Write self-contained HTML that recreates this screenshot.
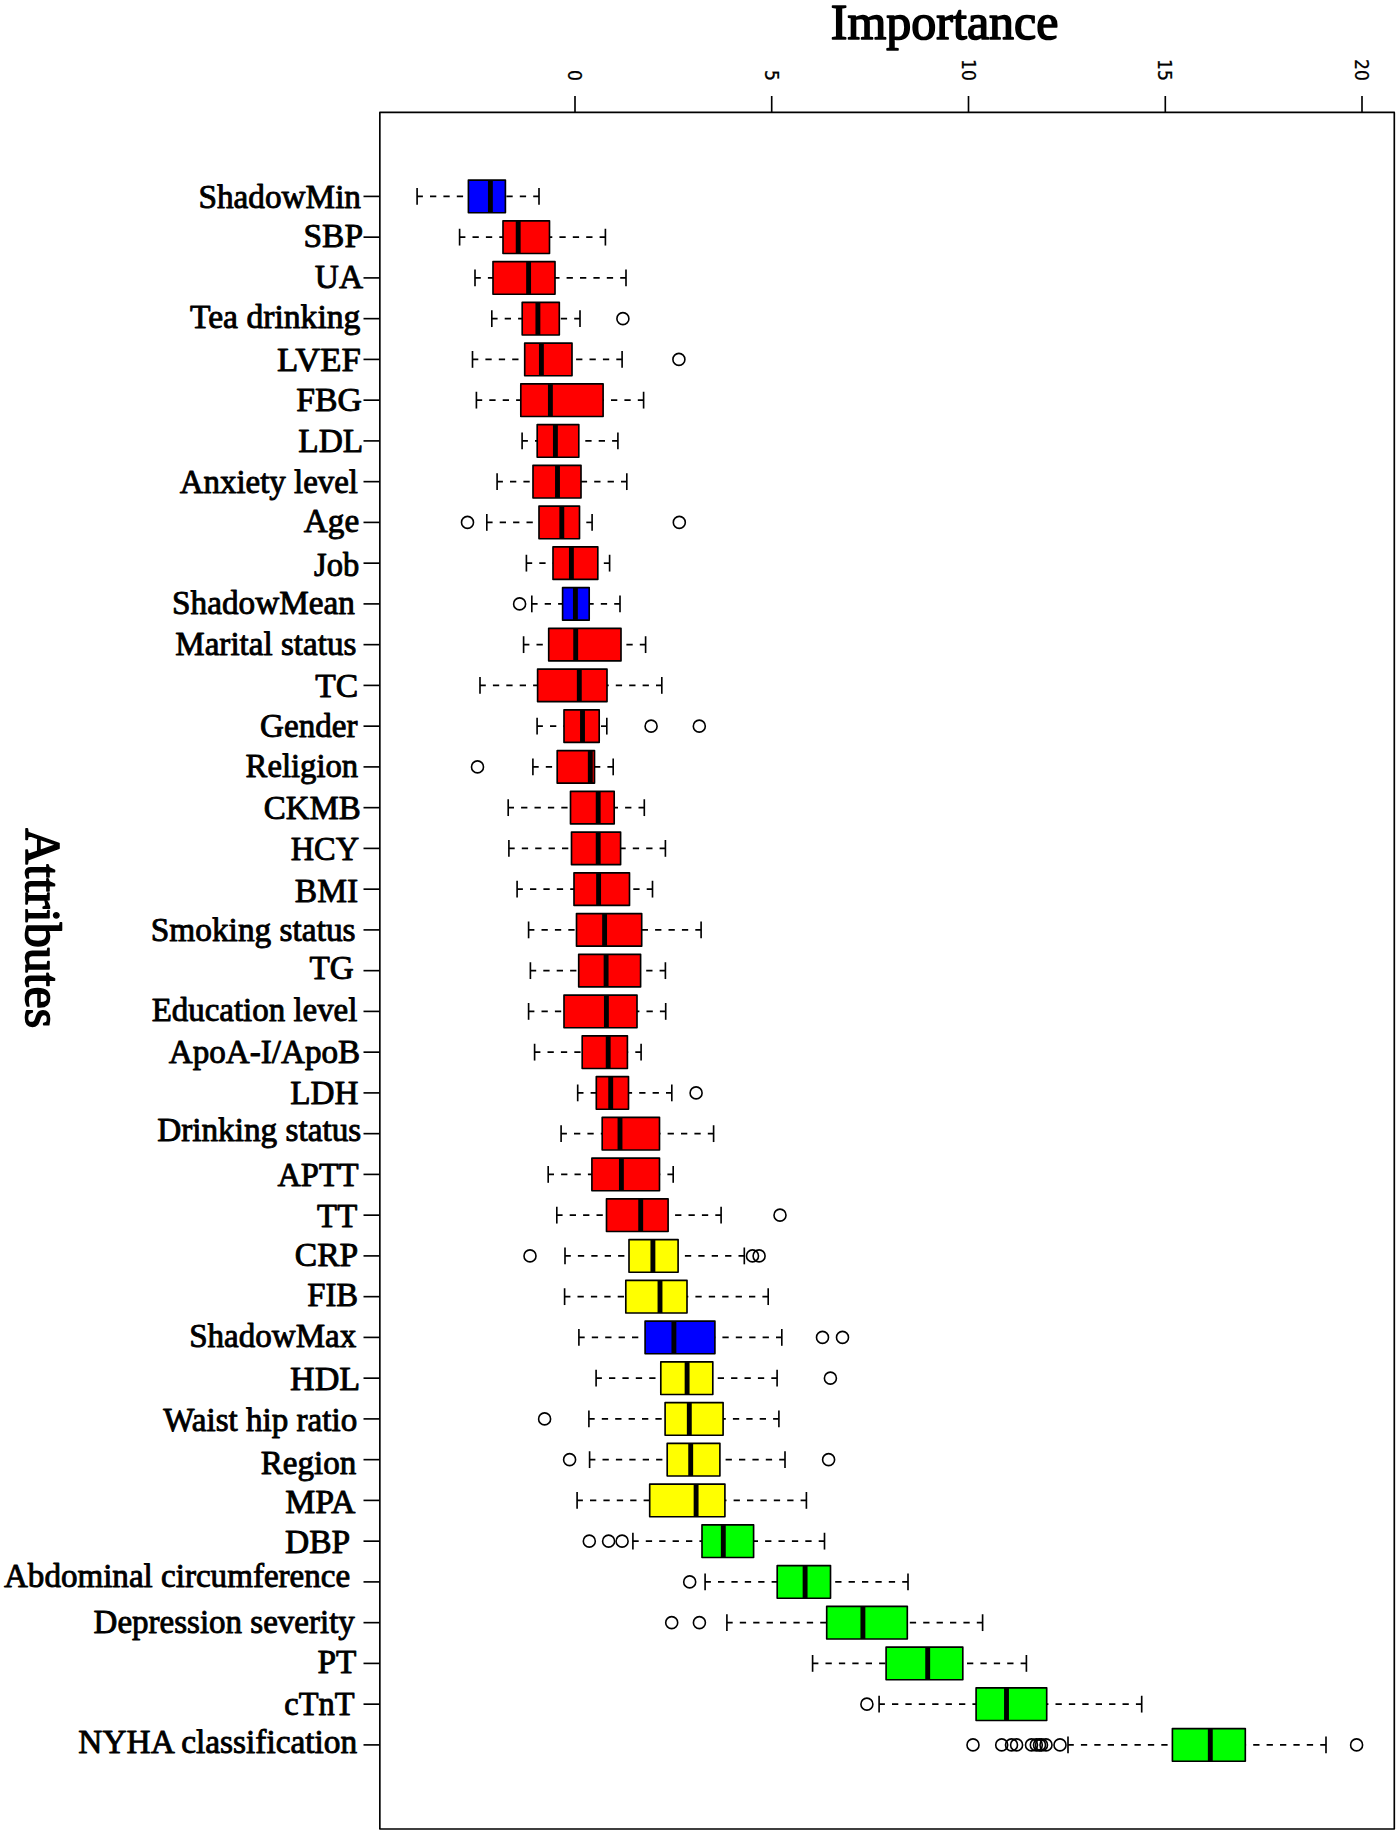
<!DOCTYPE html>
<html lang="en"><head><meta charset="utf-8"><title>Importance of attributes</title>
<style>
html,body{margin:0;padding:0;background:#fff;}
body{width:1400px;height:1835px;overflow:hidden;}
svg{display:block;}
.lab{font-family:"Liberation Serif","Times New Roman",Times,serif;font-size:33.3px;fill:#000;stroke:#000;stroke-linejoin:round;stroke-width:0.9;}
.ttl{font-family:"Liberation Serif","Times New Roman",Times,serif;fill:#000;stroke:#000;stroke-linejoin:round;stroke-width:1.6;}
.num{font-family:"DejaVu Sans","Liberation Sans",sans-serif;font-size:18.6px;fill:#000;stroke:#000;stroke-width:0.25;}
.ln{stroke:#000;stroke-width:1.65;fill:none;stroke-linejoin:round;}
.wh{stroke:#000;stroke-width:1.65;fill:none;stroke-dasharray:6.3 7.1;stroke-dashoffset:0.5;}
.md{stroke:#000;stroke-width:4.9;fill:none;}
.bx{stroke:#000;stroke-width:1.65;stroke-linejoin:round;}
.ot{stroke:#000;stroke-width:1.6;fill:none;}
</style></head><body>
<svg width="1400" height="1835" viewBox="0 0 1400 1835">
<rect x="0" y="0" width="1400" height="1835" fill="#ffffff"/>
<text class="ttl" x="830.8" y="39.1" font-size="50">Importance</text>
<text class="ttl" transform="translate(26.4 828.2) rotate(90)" font-size="50">Attributes</text>
<rect class="ln" x="379.85" y="112.4" width="1014.45" height="1716.6"/>
<line class="ln" x1="575" y1="96" x2="575" y2="112.4"/>
<text class="num" text-anchor="end" textLength="10.88" lengthAdjust="spacingAndGlyphs" transform="translate(568 80.8) rotate(90)">0</text>
<line class="ln" x1="771.7" y1="96" x2="771.7" y2="112.4"/>
<text class="num" text-anchor="end" textLength="10.88" lengthAdjust="spacingAndGlyphs" transform="translate(764.7 80.8) rotate(90)">5</text>
<line class="ln" x1="968.5" y1="96" x2="968.5" y2="112.4"/>
<text class="num" text-anchor="end" textLength="21.77" lengthAdjust="spacingAndGlyphs" transform="translate(961.5 80.8) rotate(90)">10</text>
<line class="ln" x1="1165.3" y1="96" x2="1165.3" y2="112.4"/>
<text class="num" text-anchor="end" textLength="21.77" lengthAdjust="spacingAndGlyphs" transform="translate(1158.3 80.8) rotate(90)">15</text>
<line class="ln" x1="1362" y1="96" x2="1362" y2="112.4"/>
<text class="num" text-anchor="end" textLength="21.77" lengthAdjust="spacingAndGlyphs" transform="translate(1355 80.8) rotate(90)">20</text>
<g>
<line class="ln" x1="363.5" y1="196.40" x2="379.85" y2="196.40"/>
<text class="lab" text-anchor="end" x="361.00" y="207.60" textLength="162.49" lengthAdjust="spacingAndGlyphs">ShadowMin</text>
<line class="wh" x1="417.10" y1="196.40" x2="468.40" y2="196.40"/>
<line class="wh" x1="539.00" y1="196.40" x2="505.40" y2="196.40"/>
<line class="ln" x1="417.10" y1="188.00" x2="417.10" y2="204.80"/>
<line class="ln" x1="539.00" y1="188.00" x2="539.00" y2="204.80"/>
<rect class="bx" x="468.40" y="180.10" width="37.00" height="32.60" fill="#0000ff"/>
<line class="md" x1="490.40" y1="180.10" x2="490.40" y2="212.70"/>
</g>
<g>
<line class="ln" x1="363.5" y1="237.15" x2="379.85" y2="237.15"/>
<text class="lab" text-anchor="end" x="363.00" y="247.40" textLength="59.46" lengthAdjust="spacingAndGlyphs">SBP</text>
<line class="wh" x1="459.60" y1="237.15" x2="503.00" y2="237.15"/>
<line class="wh" x1="605.40" y1="237.15" x2="549.50" y2="237.15"/>
<line class="ln" x1="459.60" y1="228.75" x2="459.60" y2="245.55"/>
<line class="ln" x1="605.40" y1="228.75" x2="605.40" y2="245.55"/>
<rect class="bx" x="503.00" y="220.85" width="46.50" height="32.60" fill="#ff0000"/>
<line class="md" x1="518.20" y1="220.85" x2="518.20" y2="253.45"/>
</g>
<g>
<line class="ln" x1="363.5" y1="277.90" x2="379.85" y2="277.90"/>
<text class="lab" text-anchor="end" x="363.00" y="287.50" textLength="48.20" lengthAdjust="spacingAndGlyphs">UA</text>
<line class="wh" x1="475.00" y1="277.90" x2="493.00" y2="277.90"/>
<line class="wh" x1="626.00" y1="277.90" x2="555.00" y2="277.90"/>
<line class="ln" x1="475.00" y1="269.50" x2="475.00" y2="286.30"/>
<line class="ln" x1="626.00" y1="269.50" x2="626.00" y2="286.30"/>
<rect class="bx" x="493.00" y="261.60" width="62.00" height="32.60" fill="#ff0000"/>
<line class="md" x1="528.60" y1="261.60" x2="528.60" y2="294.20"/>
</g>
<g>
<line class="ln" x1="363.5" y1="318.65" x2="379.85" y2="318.65"/>
<text class="lab" text-anchor="end" x="360.41" y="327.60" textLength="170.44" lengthAdjust="spacingAndGlyphs">Tea drinking</text>
<line class="wh" x1="491.80" y1="318.65" x2="522.20" y2="318.65"/>
<line class="wh" x1="580.00" y1="318.65" x2="559.30" y2="318.65"/>
<line class="ln" x1="491.80" y1="310.25" x2="491.80" y2="327.05"/>
<line class="ln" x1="580.00" y1="310.25" x2="580.00" y2="327.05"/>
<rect class="bx" x="522.20" y="302.35" width="37.10" height="32.60" fill="#ff0000"/>
<line class="md" x1="537.90" y1="302.35" x2="537.90" y2="334.95"/>
<circle class="ot" cx="622.90" cy="318.65" r="6"/>
</g>
<g>
<line class="ln" x1="363.5" y1="359.40" x2="379.85" y2="359.40"/>
<text class="lab" text-anchor="end" x="360.82" y="371.10" textLength="83.74" lengthAdjust="spacingAndGlyphs">LVEF</text>
<line class="wh" x1="472.50" y1="359.40" x2="524.70" y2="359.40"/>
<line class="wh" x1="622.10" y1="359.40" x2="572.00" y2="359.40"/>
<line class="ln" x1="472.50" y1="351.00" x2="472.50" y2="367.80"/>
<line class="ln" x1="622.10" y1="351.00" x2="622.10" y2="367.80"/>
<rect class="bx" x="524.70" y="343.10" width="47.30" height="32.60" fill="#ff0000"/>
<line class="md" x1="541.40" y1="343.10" x2="541.40" y2="375.70"/>
<circle class="ot" cx="678.90" cy="359.40" r="6"/>
</g>
<g>
<line class="ln" x1="363.5" y1="400.15" x2="379.85" y2="400.15"/>
<text class="lab" text-anchor="end" x="362.01" y="410.70" textLength="65.71" lengthAdjust="spacingAndGlyphs">FBG</text>
<line class="wh" x1="476.40" y1="400.15" x2="520.80" y2="400.15"/>
<line class="wh" x1="643.60" y1="400.15" x2="603.10" y2="400.15"/>
<line class="ln" x1="476.40" y1="391.75" x2="476.40" y2="408.55"/>
<line class="ln" x1="643.60" y1="391.75" x2="643.60" y2="408.55"/>
<rect class="bx" x="520.80" y="383.85" width="82.30" height="32.60" fill="#ff0000"/>
<line class="md" x1="550.40" y1="383.85" x2="550.40" y2="416.45"/>
</g>
<g>
<line class="ln" x1="363.5" y1="440.90" x2="379.85" y2="440.90"/>
<text class="lab" text-anchor="end" x="363.21" y="451.60" textLength="64.94" lengthAdjust="spacingAndGlyphs">LDL</text>
<line class="wh" x1="522.10" y1="440.90" x2="537.20" y2="440.90"/>
<line class="wh" x1="617.90" y1="440.90" x2="578.80" y2="440.90"/>
<line class="ln" x1="522.10" y1="432.50" x2="522.10" y2="449.30"/>
<line class="ln" x1="617.90" y1="432.50" x2="617.90" y2="449.30"/>
<rect class="bx" x="537.20" y="424.60" width="41.60" height="32.60" fill="#ff0000"/>
<line class="md" x1="555.40" y1="424.60" x2="555.40" y2="457.20"/>
</g>
<g>
<line class="ln" x1="363.5" y1="481.65" x2="379.85" y2="481.65"/>
<text class="lab" text-anchor="end" x="358.00" y="492.80" textLength="178.31" lengthAdjust="spacingAndGlyphs">Anxiety level</text>
<line class="wh" x1="497.10" y1="481.65" x2="533.00" y2="481.65"/>
<line class="wh" x1="626.80" y1="481.65" x2="581.00" y2="481.65"/>
<line class="ln" x1="497.10" y1="473.25" x2="497.10" y2="490.05"/>
<line class="ln" x1="626.80" y1="473.25" x2="626.80" y2="490.05"/>
<rect class="bx" x="533.00" y="465.35" width="48.00" height="32.60" fill="#ff0000"/>
<line class="md" x1="557.50" y1="465.35" x2="557.50" y2="497.95"/>
</g>
<g>
<line class="ln" x1="363.5" y1="522.40" x2="379.85" y2="522.40"/>
<text class="lab" text-anchor="end" x="359.20" y="532.00" textLength="55.38" lengthAdjust="spacingAndGlyphs">Age</text>
<line class="wh" x1="486.80" y1="522.40" x2="539.00" y2="522.40"/>
<line class="wh" x1="592.10" y1="522.40" x2="579.50" y2="522.40"/>
<line class="ln" x1="486.80" y1="514.00" x2="486.80" y2="530.80"/>
<line class="ln" x1="592.10" y1="514.00" x2="592.10" y2="530.80"/>
<rect class="bx" x="539.00" y="506.10" width="40.50" height="32.60" fill="#ff0000"/>
<line class="md" x1="561.80" y1="506.10" x2="561.80" y2="538.70"/>
<circle class="ot" cx="467.50" cy="522.40" r="6"/>
<circle class="ot" cx="679.30" cy="522.40" r="6"/>
</g>
<g>
<line class="ln" x1="363.5" y1="563.15" x2="379.85" y2="563.15"/>
<text class="lab" text-anchor="end" x="359.19" y="575.80" textLength="45.16" lengthAdjust="spacingAndGlyphs">Job</text>
<line class="wh" x1="526.40" y1="563.15" x2="553.00" y2="563.15"/>
<line class="wh" x1="609.60" y1="563.15" x2="597.80" y2="563.15"/>
<line class="ln" x1="526.40" y1="554.75" x2="526.40" y2="571.55"/>
<line class="ln" x1="609.60" y1="554.75" x2="609.60" y2="571.55"/>
<rect class="bx" x="553.00" y="546.85" width="44.80" height="32.60" fill="#ff0000"/>
<line class="md" x1="571.40" y1="546.85" x2="571.40" y2="579.45"/>
</g>
<g>
<line class="ln" x1="363.5" y1="603.90" x2="379.85" y2="603.90"/>
<text class="lab" text-anchor="end" x="354.80" y="614.30" textLength="182.70" lengthAdjust="spacingAndGlyphs">ShadowMean</text>
<line class="wh" x1="531.80" y1="603.90" x2="562.60" y2="603.90"/>
<line class="wh" x1="620.00" y1="603.90" x2="589.20" y2="603.90"/>
<line class="ln" x1="531.80" y1="595.50" x2="531.80" y2="612.30"/>
<line class="ln" x1="620.00" y1="595.50" x2="620.00" y2="612.30"/>
<rect class="bx" x="562.60" y="587.60" width="26.60" height="32.60" fill="#0000ff"/>
<line class="md" x1="575.40" y1="587.60" x2="575.40" y2="620.20"/>
<circle class="ot" cx="519.60" cy="603.90" r="6"/>
</g>
<g>
<line class="ln" x1="363.5" y1="644.65" x2="379.85" y2="644.65"/>
<text class="lab" text-anchor="end" x="356.40" y="654.90" textLength="181.18" lengthAdjust="spacingAndGlyphs">Marital status</text>
<line class="wh" x1="523.60" y1="644.65" x2="548.70" y2="644.65"/>
<line class="wh" x1="645.60" y1="644.65" x2="621.00" y2="644.65"/>
<line class="ln" x1="523.60" y1="636.25" x2="523.60" y2="653.05"/>
<line class="ln" x1="645.60" y1="636.25" x2="645.60" y2="653.05"/>
<rect class="bx" x="548.70" y="628.35" width="72.30" height="32.60" fill="#ff0000"/>
<line class="md" x1="575.70" y1="628.35" x2="575.70" y2="660.95"/>
</g>
<g>
<line class="ln" x1="363.5" y1="685.40" x2="379.85" y2="685.40"/>
<text class="lab" text-anchor="end" x="358.21" y="696.60" textLength="42.98" lengthAdjust="spacingAndGlyphs">TC</text>
<line class="wh" x1="480.00" y1="685.40" x2="537.60" y2="685.40"/>
<line class="wh" x1="661.80" y1="685.40" x2="607.00" y2="685.40"/>
<line class="ln" x1="480.00" y1="677.00" x2="480.00" y2="693.80"/>
<line class="ln" x1="661.80" y1="677.00" x2="661.80" y2="693.80"/>
<rect class="bx" x="537.60" y="669.10" width="69.40" height="32.60" fill="#ff0000"/>
<line class="md" x1="579.30" y1="669.10" x2="579.30" y2="701.70"/>
</g>
<g>
<line class="ln" x1="363.5" y1="726.15" x2="379.85" y2="726.15"/>
<text class="lab" text-anchor="end" x="357.40" y="737.10" textLength="97.29" lengthAdjust="spacingAndGlyphs">Gender</text>
<line class="wh" x1="537.10" y1="726.15" x2="564.00" y2="726.15"/>
<line class="wh" x1="606.80" y1="726.15" x2="599.20" y2="726.15"/>
<line class="ln" x1="537.10" y1="717.75" x2="537.10" y2="734.55"/>
<line class="ln" x1="606.80" y1="717.75" x2="606.80" y2="734.55"/>
<rect class="bx" x="564.00" y="709.85" width="35.20" height="32.60" fill="#ff0000"/>
<line class="md" x1="582.50" y1="709.85" x2="582.50" y2="742.45"/>
<circle class="ot" cx="651.10" cy="726.15" r="6"/>
<circle class="ot" cx="699.30" cy="726.15" r="6"/>
</g>
<g>
<line class="ln" x1="363.5" y1="766.90" x2="379.85" y2="766.90"/>
<text class="lab" text-anchor="end" x="358.21" y="777.10" textLength="112.59" lengthAdjust="spacingAndGlyphs">Religion</text>
<line class="wh" x1="532.90" y1="766.90" x2="557.20" y2="766.90"/>
<line class="wh" x1="613.20" y1="766.90" x2="594.50" y2="766.90"/>
<line class="ln" x1="532.90" y1="758.50" x2="532.90" y2="775.30"/>
<line class="ln" x1="613.20" y1="758.50" x2="613.20" y2="775.30"/>
<rect class="bx" x="557.20" y="750.60" width="37.30" height="32.60" fill="#ff0000"/>
<line class="md" x1="590.30" y1="750.60" x2="590.30" y2="783.20"/>
<circle class="ot" cx="477.50" cy="766.90" r="6"/>
</g>
<g>
<line class="ln" x1="363.5" y1="807.65" x2="379.85" y2="807.65"/>
<text class="lab" text-anchor="end" x="360.79" y="818.60" textLength="97.16" lengthAdjust="spacingAndGlyphs">CKMB</text>
<line class="wh" x1="508.20" y1="807.65" x2="570.50" y2="807.65"/>
<line class="wh" x1="644.30" y1="807.65" x2="614.20" y2="807.65"/>
<line class="ln" x1="508.20" y1="799.25" x2="508.20" y2="816.05"/>
<line class="ln" x1="644.30" y1="799.25" x2="644.30" y2="816.05"/>
<rect class="bx" x="570.50" y="791.35" width="43.70" height="32.60" fill="#ff0000"/>
<line class="md" x1="598.20" y1="791.35" x2="598.20" y2="823.95"/>
</g>
<g>
<line class="ln" x1="363.5" y1="848.40" x2="379.85" y2="848.40"/>
<text class="lab" text-anchor="end" x="359.18" y="860.00" textLength="68.48" lengthAdjust="spacingAndGlyphs">HCY</text>
<line class="wh" x1="508.90" y1="848.40" x2="571.50" y2="848.40"/>
<line class="wh" x1="665.40" y1="848.40" x2="620.60" y2="848.40"/>
<line class="ln" x1="508.90" y1="840.00" x2="508.90" y2="856.80"/>
<line class="ln" x1="665.40" y1="840.00" x2="665.40" y2="856.80"/>
<rect class="bx" x="571.50" y="832.10" width="49.10" height="32.60" fill="#ff0000"/>
<line class="md" x1="598.20" y1="832.10" x2="598.20" y2="864.70"/>
</g>
<g>
<line class="ln" x1="363.5" y1="889.15" x2="379.85" y2="889.15"/>
<text class="lab" text-anchor="end" x="358.21" y="901.50" textLength="63.32" lengthAdjust="spacingAndGlyphs">BMI</text>
<line class="wh" x1="517.10" y1="889.15" x2="574.00" y2="889.15"/>
<line class="wh" x1="652.50" y1="889.15" x2="629.50" y2="889.15"/>
<line class="ln" x1="517.10" y1="880.75" x2="517.10" y2="897.55"/>
<line class="ln" x1="652.50" y1="880.75" x2="652.50" y2="897.55"/>
<rect class="bx" x="574.00" y="872.85" width="55.50" height="32.60" fill="#ff0000"/>
<line class="md" x1="598.60" y1="872.85" x2="598.60" y2="905.45"/>
</g>
<g>
<line class="ln" x1="363.5" y1="929.90" x2="379.85" y2="929.90"/>
<text class="lab" text-anchor="end" x="355.60" y="940.90" textLength="204.84" lengthAdjust="spacingAndGlyphs">Smoking status</text>
<line class="wh" x1="528.60" y1="929.90" x2="576.50" y2="929.90"/>
<line class="wh" x1="701.10" y1="929.90" x2="641.70" y2="929.90"/>
<line class="ln" x1="528.60" y1="921.50" x2="528.60" y2="938.30"/>
<line class="ln" x1="701.10" y1="921.50" x2="701.10" y2="938.30"/>
<rect class="bx" x="576.50" y="913.60" width="65.20" height="32.60" fill="#ff0000"/>
<line class="md" x1="604.60" y1="913.60" x2="604.60" y2="946.20"/>
</g>
<g>
<line class="ln" x1="363.5" y1="970.65" x2="379.85" y2="970.65"/>
<text class="lab" text-anchor="end" x="353.80" y="979.10" textLength="44.29" lengthAdjust="spacingAndGlyphs">TG</text>
<line class="wh" x1="530.40" y1="970.65" x2="578.70" y2="970.65"/>
<line class="wh" x1="665.40" y1="970.65" x2="640.60" y2="970.65"/>
<line class="ln" x1="530.40" y1="962.25" x2="530.40" y2="979.05"/>
<line class="ln" x1="665.40" y1="962.25" x2="665.40" y2="979.05"/>
<rect class="bx" x="578.70" y="954.35" width="61.90" height="32.60" fill="#ff0000"/>
<line class="md" x1="606.10" y1="954.35" x2="606.10" y2="986.95"/>
</g>
<g>
<line class="ln" x1="363.5" y1="1011.40" x2="379.85" y2="1011.40"/>
<text class="lab" text-anchor="end" x="357.40" y="1020.90" textLength="205.73" lengthAdjust="spacingAndGlyphs">Education level</text>
<line class="wh" x1="528.60" y1="1011.40" x2="564.00" y2="1011.40"/>
<line class="wh" x1="665.70" y1="1011.40" x2="637.00" y2="1011.40"/>
<line class="ln" x1="528.60" y1="1003.00" x2="528.60" y2="1019.80"/>
<line class="ln" x1="665.70" y1="1003.00" x2="665.70" y2="1019.80"/>
<rect class="bx" x="564.00" y="995.10" width="73.00" height="32.60" fill="#ff0000"/>
<line class="md" x1="606.40" y1="995.10" x2="606.40" y2="1027.70"/>
</g>
<g>
<line class="ln" x1="363.5" y1="1052.15" x2="379.85" y2="1052.15"/>
<text class="lab" text-anchor="end" x="360.19" y="1062.80" textLength="191.37" lengthAdjust="spacingAndGlyphs">ApoA-I/ApoB</text>
<line class="wh" x1="534.60" y1="1052.15" x2="582.20" y2="1052.15"/>
<line class="wh" x1="641.10" y1="1052.15" x2="627.40" y2="1052.15"/>
<line class="ln" x1="534.60" y1="1043.75" x2="534.60" y2="1060.55"/>
<line class="ln" x1="641.10" y1="1043.75" x2="641.10" y2="1060.55"/>
<rect class="bx" x="582.20" y="1035.85" width="45.20" height="32.60" fill="#ff0000"/>
<line class="md" x1="608.20" y1="1035.85" x2="608.20" y2="1068.45"/>
</g>
<g>
<line class="ln" x1="363.5" y1="1092.90" x2="379.85" y2="1092.90"/>
<text class="lab" text-anchor="end" x="358.40" y="1103.70" textLength="68.23" lengthAdjust="spacingAndGlyphs">LDH</text>
<line class="wh" x1="577.70" y1="1092.90" x2="596.30" y2="1092.90"/>
<line class="wh" x1="671.80" y1="1092.90" x2="628.50" y2="1092.90"/>
<line class="ln" x1="577.70" y1="1084.50" x2="577.70" y2="1101.30"/>
<line class="ln" x1="671.80" y1="1084.50" x2="671.80" y2="1101.30"/>
<rect class="bx" x="596.30" y="1076.60" width="32.20" height="32.60" fill="#ff0000"/>
<line class="md" x1="610.70" y1="1076.60" x2="610.70" y2="1109.20"/>
<circle class="ot" cx="696.10" cy="1092.90" r="6"/>
</g>
<g>
<line class="ln" x1="363.5" y1="1133.65" x2="379.85" y2="1133.65"/>
<text class="lab" text-anchor="end" x="361.20" y="1140.90" textLength="204.00" lengthAdjust="spacingAndGlyphs">Drinking status</text>
<line class="wh" x1="561.10" y1="1133.65" x2="602.20" y2="1133.65"/>
<line class="wh" x1="713.60" y1="1133.65" x2="659.50" y2="1133.65"/>
<line class="ln" x1="561.10" y1="1125.25" x2="561.10" y2="1142.05"/>
<line class="ln" x1="713.60" y1="1125.25" x2="713.60" y2="1142.05"/>
<rect class="bx" x="602.20" y="1117.35" width="57.30" height="32.60" fill="#ff0000"/>
<line class="md" x1="620.00" y1="1117.35" x2="620.00" y2="1149.95"/>
</g>
<g>
<line class="ln" x1="363.5" y1="1174.40" x2="379.85" y2="1174.40"/>
<text class="lab" text-anchor="end" x="358.59" y="1186.40" textLength="81.14" lengthAdjust="spacingAndGlyphs">APTT</text>
<line class="wh" x1="548.20" y1="1174.40" x2="591.90" y2="1174.40"/>
<line class="wh" x1="673.20" y1="1174.40" x2="659.50" y2="1174.40"/>
<line class="ln" x1="548.20" y1="1166.00" x2="548.20" y2="1182.80"/>
<line class="ln" x1="673.20" y1="1166.00" x2="673.20" y2="1182.80"/>
<rect class="bx" x="591.90" y="1158.10" width="67.60" height="32.60" fill="#ff0000"/>
<line class="md" x1="621.40" y1="1158.10" x2="621.40" y2="1190.70"/>
</g>
<g>
<line class="ln" x1="363.5" y1="1215.15" x2="379.85" y2="1215.15"/>
<text class="lab" text-anchor="end" x="357.20" y="1226.60" textLength="40.08" lengthAdjust="spacingAndGlyphs">TT</text>
<line class="wh" x1="556.80" y1="1215.15" x2="606.50" y2="1215.15"/>
<line class="wh" x1="721.10" y1="1215.15" x2="668.10" y2="1215.15"/>
<line class="ln" x1="556.80" y1="1206.75" x2="556.80" y2="1223.55"/>
<line class="ln" x1="721.10" y1="1206.75" x2="721.10" y2="1223.55"/>
<rect class="bx" x="606.50" y="1198.85" width="61.60" height="32.60" fill="#ff0000"/>
<line class="md" x1="640.70" y1="1198.85" x2="640.70" y2="1231.45"/>
<circle class="ot" cx="780.00" cy="1215.15" r="6"/>
</g>
<g>
<line class="ln" x1="363.5" y1="1255.90" x2="379.85" y2="1255.90"/>
<text class="lab" text-anchor="end" x="358.21" y="1266.40" textLength="63.35" lengthAdjust="spacingAndGlyphs">CRP</text>
<line class="wh" x1="565.00" y1="1255.90" x2="629.00" y2="1255.90"/>
<line class="wh" x1="744.30" y1="1255.90" x2="678.10" y2="1255.90"/>
<line class="ln" x1="565.00" y1="1247.50" x2="565.00" y2="1264.30"/>
<line class="ln" x1="744.30" y1="1247.50" x2="744.30" y2="1264.30"/>
<rect class="bx" x="629.00" y="1239.60" width="49.10" height="32.60" fill="#ffff00"/>
<line class="md" x1="652.90" y1="1239.60" x2="652.90" y2="1272.20"/>
<circle class="ot" cx="530.00" cy="1255.90" r="6"/>
<circle class="ot" cx="752.50" cy="1255.90" r="6"/>
<circle class="ot" cx="759.10" cy="1255.90" r="6"/>
</g>
<g>
<line class="ln" x1="363.5" y1="1296.65" x2="379.85" y2="1296.65"/>
<text class="lab" text-anchor="end" x="358.18" y="1306.30" textLength="50.90" lengthAdjust="spacingAndGlyphs">FIB</text>
<line class="wh" x1="564.60" y1="1296.65" x2="625.80" y2="1296.65"/>
<line class="wh" x1="768.20" y1="1296.65" x2="687.00" y2="1296.65"/>
<line class="ln" x1="564.60" y1="1288.25" x2="564.60" y2="1305.05"/>
<line class="ln" x1="768.20" y1="1288.25" x2="768.20" y2="1305.05"/>
<rect class="bx" x="625.80" y="1280.35" width="61.20" height="32.60" fill="#ffff00"/>
<line class="md" x1="660.00" y1="1280.35" x2="660.00" y2="1312.95"/>
</g>
<g>
<line class="ln" x1="363.5" y1="1337.40" x2="379.85" y2="1337.40"/>
<text class="lab" text-anchor="end" x="356.20" y="1347.10" textLength="167.02" lengthAdjust="spacingAndGlyphs">ShadowMax</text>
<line class="wh" x1="578.90" y1="1337.40" x2="645.10" y2="1337.40"/>
<line class="wh" x1="781.80" y1="1337.40" x2="714.90" y2="1337.40"/>
<line class="ln" x1="578.90" y1="1329.00" x2="578.90" y2="1345.80"/>
<line class="ln" x1="781.80" y1="1329.00" x2="781.80" y2="1345.80"/>
<rect class="bx" x="645.10" y="1321.10" width="69.80" height="32.60" fill="#0000ff"/>
<line class="md" x1="673.90" y1="1321.10" x2="673.90" y2="1353.70"/>
<circle class="ot" cx="822.50" cy="1337.40" r="6"/>
<circle class="ot" cx="842.50" cy="1337.40" r="6"/>
</g>
<g>
<line class="ln" x1="363.5" y1="1378.15" x2="379.85" y2="1378.15"/>
<text class="lab" text-anchor="end" x="360.24" y="1390.30" textLength="70.20" lengthAdjust="spacingAndGlyphs">HDL</text>
<line class="wh" x1="596.10" y1="1378.15" x2="660.80" y2="1378.15"/>
<line class="wh" x1="777.10" y1="1378.15" x2="712.80" y2="1378.15"/>
<line class="ln" x1="596.10" y1="1369.75" x2="596.10" y2="1386.55"/>
<line class="ln" x1="777.10" y1="1369.75" x2="777.10" y2="1386.55"/>
<rect class="bx" x="660.80" y="1361.85" width="52.00" height="32.60" fill="#ffff00"/>
<line class="md" x1="687.10" y1="1361.85" x2="687.10" y2="1394.45"/>
<circle class="ot" cx="830.40" cy="1378.15" r="6"/>
</g>
<g>
<line class="ln" x1="363.5" y1="1418.90" x2="379.85" y2="1418.90"/>
<text class="lab" text-anchor="end" x="357.20" y="1431.40" textLength="193.92" lengthAdjust="spacingAndGlyphs">Waist hip ratio</text>
<line class="wh" x1="588.90" y1="1418.90" x2="665.10" y2="1418.90"/>
<line class="wh" x1="778.90" y1="1418.90" x2="723.10" y2="1418.90"/>
<line class="ln" x1="588.90" y1="1410.50" x2="588.90" y2="1427.30"/>
<line class="ln" x1="778.90" y1="1410.50" x2="778.90" y2="1427.30"/>
<rect class="bx" x="665.10" y="1402.60" width="58.00" height="32.60" fill="#ffff00"/>
<line class="md" x1="689.30" y1="1402.60" x2="689.30" y2="1435.20"/>
<circle class="ot" cx="544.60" cy="1418.90" r="6"/>
</g>
<g>
<line class="ln" x1="363.5" y1="1459.65" x2="379.85" y2="1459.65"/>
<text class="lab" text-anchor="end" x="356.20" y="1474.30" textLength="95.39" lengthAdjust="spacingAndGlyphs">Region</text>
<line class="wh" x1="589.60" y1="1459.65" x2="667.20" y2="1459.65"/>
<line class="wh" x1="785.00" y1="1459.65" x2="719.90" y2="1459.65"/>
<line class="ln" x1="589.60" y1="1451.25" x2="589.60" y2="1468.05"/>
<line class="ln" x1="785.00" y1="1451.25" x2="785.00" y2="1468.05"/>
<rect class="bx" x="667.20" y="1443.35" width="52.70" height="32.60" fill="#ffff00"/>
<line class="md" x1="690.70" y1="1443.35" x2="690.70" y2="1475.95"/>
<circle class="ot" cx="569.60" cy="1459.65" r="6"/>
<circle class="ot" cx="828.60" cy="1459.65" r="6"/>
</g>
<g>
<line class="ln" x1="363.5" y1="1500.40" x2="379.85" y2="1500.40"/>
<text class="lab" text-anchor="end" x="355.40" y="1512.90" textLength="70.13" lengthAdjust="spacingAndGlyphs">MPA</text>
<line class="wh" x1="577.10" y1="1500.40" x2="649.70" y2="1500.40"/>
<line class="wh" x1="806.40" y1="1500.40" x2="724.90" y2="1500.40"/>
<line class="ln" x1="577.10" y1="1492.00" x2="577.10" y2="1508.80"/>
<line class="ln" x1="806.40" y1="1492.00" x2="806.40" y2="1508.80"/>
<rect class="bx" x="649.70" y="1484.10" width="75.20" height="32.60" fill="#ffff00"/>
<line class="md" x1="696.10" y1="1484.10" x2="696.10" y2="1516.70"/>
</g>
<g>
<line class="ln" x1="363.5" y1="1541.15" x2="379.85" y2="1541.15"/>
<text class="lab" text-anchor="end" x="350.21" y="1552.90" textLength="65.19" lengthAdjust="spacingAndGlyphs">DBP</text>
<line class="wh" x1="632.90" y1="1541.15" x2="702.00" y2="1541.15"/>
<line class="wh" x1="824.50" y1="1541.15" x2="753.60" y2="1541.15"/>
<line class="ln" x1="632.90" y1="1532.75" x2="632.90" y2="1549.55"/>
<line class="ln" x1="824.50" y1="1532.75" x2="824.50" y2="1549.55"/>
<rect class="bx" x="702.00" y="1524.85" width="51.60" height="32.60" fill="#00ff00"/>
<line class="md" x1="723.30" y1="1524.85" x2="723.30" y2="1557.45"/>
<circle class="ot" cx="589.30" cy="1541.15" r="6"/>
<circle class="ot" cx="608.60" cy="1541.15" r="6"/>
<circle class="ot" cx="622.10" cy="1541.15" r="6"/>
</g>
<g>
<line class="ln" x1="363.5" y1="1581.90" x2="379.85" y2="1581.90"/>
<text class="lab" text-anchor="end" x="350.19" y="1587.10" textLength="346.23" lengthAdjust="spacingAndGlyphs">Abdominal circumference</text>
<line class="wh" x1="705.10" y1="1581.90" x2="777.20" y2="1581.90"/>
<line class="wh" x1="908.00" y1="1581.90" x2="830.50" y2="1581.90"/>
<line class="ln" x1="705.10" y1="1573.50" x2="705.10" y2="1590.30"/>
<line class="ln" x1="908.00" y1="1573.50" x2="908.00" y2="1590.30"/>
<rect class="bx" x="777.20" y="1565.60" width="53.30" height="32.60" fill="#00ff00"/>
<line class="md" x1="805.10" y1="1565.60" x2="805.10" y2="1598.20"/>
<circle class="ot" cx="689.70" cy="1581.90" r="6"/>
</g>
<g>
<line class="ln" x1="363.5" y1="1622.65" x2="379.85" y2="1622.65"/>
<text class="lab" text-anchor="end" x="354.81" y="1632.60" textLength="261.24" lengthAdjust="spacingAndGlyphs">Depression severity</text>
<line class="wh" x1="726.90" y1="1622.65" x2="826.70" y2="1622.65"/>
<line class="wh" x1="982.60" y1="1622.65" x2="907.30" y2="1622.65"/>
<line class="ln" x1="726.90" y1="1614.25" x2="726.90" y2="1631.05"/>
<line class="ln" x1="982.60" y1="1614.25" x2="982.60" y2="1631.05"/>
<rect class="bx" x="826.70" y="1606.35" width="80.60" height="32.60" fill="#00ff00"/>
<line class="md" x1="862.90" y1="1606.35" x2="862.90" y2="1638.95"/>
<circle class="ot" cx="671.70" cy="1622.65" r="6"/>
<circle class="ot" cx="699.40" cy="1622.65" r="6"/>
</g>
<g>
<line class="ln" x1="363.5" y1="1663.40" x2="379.85" y2="1663.40"/>
<text class="lab" text-anchor="end" x="356.40" y="1672.50" textLength="38.86" lengthAdjust="spacingAndGlyphs">PT</text>
<line class="wh" x1="812.60" y1="1663.40" x2="886.10" y2="1663.40"/>
<line class="wh" x1="1026.40" y1="1663.40" x2="962.80" y2="1663.40"/>
<line class="ln" x1="812.60" y1="1655.00" x2="812.60" y2="1671.80"/>
<line class="ln" x1="1026.40" y1="1655.00" x2="1026.40" y2="1671.80"/>
<rect class="bx" x="886.10" y="1647.10" width="76.70" height="32.60" fill="#00ff00"/>
<line class="md" x1="927.70" y1="1647.10" x2="927.70" y2="1679.70"/>
</g>
<g>
<line class="ln" x1="363.5" y1="1704.15" x2="379.85" y2="1704.15"/>
<text class="lab" text-anchor="end" x="354.59" y="1714.50" textLength="70.28" lengthAdjust="spacingAndGlyphs">cTnT</text>
<line class="wh" x1="879.10" y1="1704.15" x2="976.10" y2="1704.15"/>
<line class="wh" x1="1141.70" y1="1704.15" x2="1046.70" y2="1704.15"/>
<line class="ln" x1="879.10" y1="1695.75" x2="879.10" y2="1712.55"/>
<line class="ln" x1="1141.70" y1="1695.75" x2="1141.70" y2="1712.55"/>
<rect class="bx" x="976.10" y="1687.85" width="70.60" height="32.60" fill="#00ff00"/>
<line class="md" x1="1006.50" y1="1687.85" x2="1006.50" y2="1720.45"/>
<circle class="ot" cx="866.90" cy="1704.15" r="6"/>
</g>
<g>
<line class="ln" x1="363.5" y1="1744.90" x2="379.85" y2="1744.90"/>
<text class="lab" text-anchor="end" x="357.20" y="1752.90" textLength="278.84" lengthAdjust="spacingAndGlyphs">NYHA classification</text>
<line class="wh" x1="1068.00" y1="1744.90" x2="1172.40" y2="1744.90"/>
<line class="wh" x1="1326.00" y1="1744.90" x2="1245.30" y2="1744.90"/>
<line class="ln" x1="1068.00" y1="1736.50" x2="1068.00" y2="1753.30"/>
<line class="ln" x1="1326.00" y1="1736.50" x2="1326.00" y2="1753.30"/>
<rect class="bx" x="1172.40" y="1728.60" width="72.90" height="32.60" fill="#00ff00"/>
<line class="md" x1="1210.30" y1="1728.60" x2="1210.30" y2="1761.20"/>
<circle class="ot" cx="973.00" cy="1744.90" r="6"/>
<circle class="ot" cx="1001.70" cy="1744.90" r="6"/>
<circle class="ot" cx="1011.50" cy="1744.90" r="6"/>
<circle class="ot" cx="1016.60" cy="1744.90" r="6"/>
<circle class="ot" cx="1031.50" cy="1744.90" r="6"/>
<circle class="ot" cx="1036.30" cy="1744.90" r="6"/>
<circle class="ot" cx="1039.50" cy="1744.90" r="6"/>
<circle class="ot" cx="1041.50" cy="1744.90" r="6"/>
<circle class="ot" cx="1046.00" cy="1744.90" r="6"/>
<circle class="ot" cx="1060.00" cy="1744.90" r="6"/>
<circle class="ot" cx="1356.60" cy="1744.90" r="6"/>
</g>
</svg>
</body></html>
